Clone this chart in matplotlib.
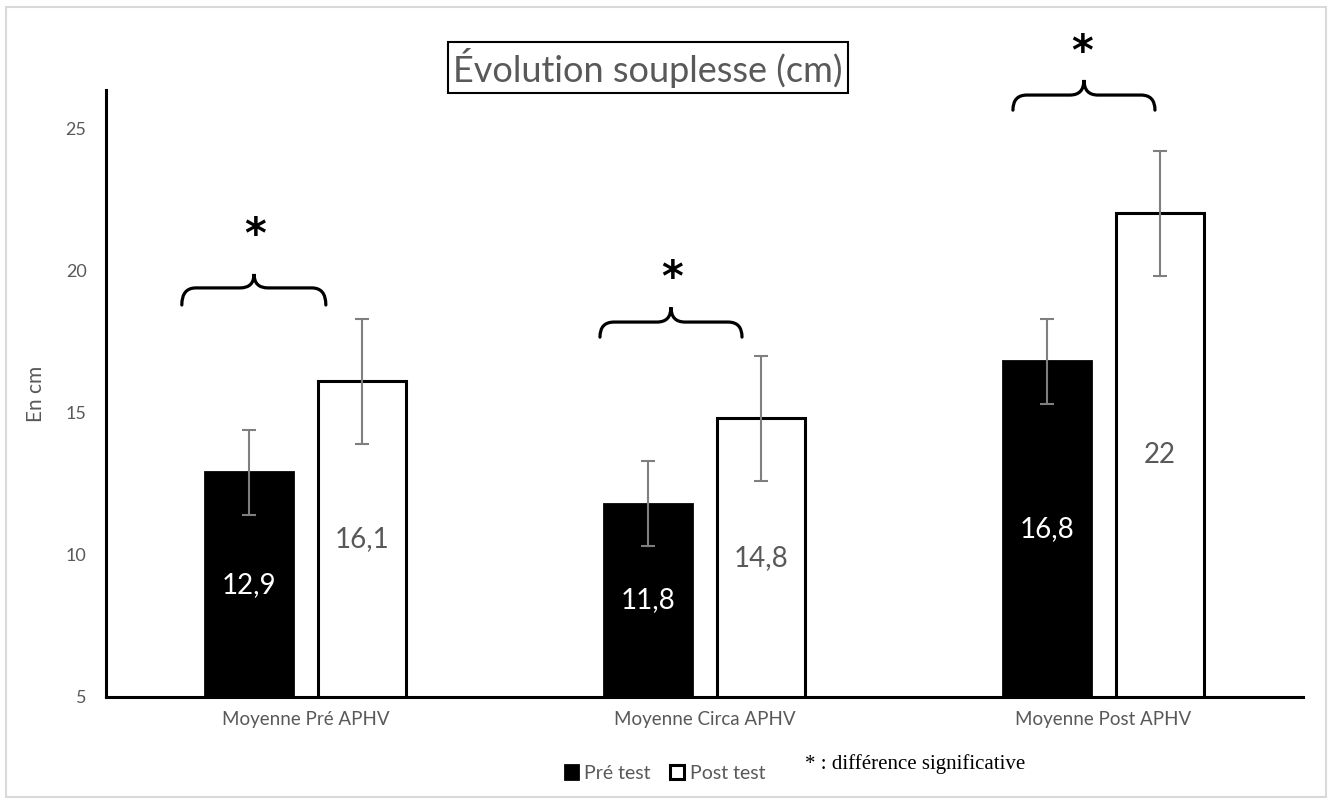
"""
Évolution souplesse (cm) - barres groupées avec écarts-types
"""
import numpy as np
import matplotlib.pyplot as plt
from matplotlib.path import Path
from matplotlib.patches import PathPatch, Rectangle

plt.rcParams['font.family'] = ['Lato', 'DejaVu Sans']

# data
categories = ['Moyenne Pré APHV', 'Moyenne Circa APHV', 'Moyenne Post APHV']
pre_test = [12.9, 11.8, 16.8]
post_test = [16.1, 14.8, 22.0]
pre_err = [1.5, 1.5, 1.5]
post_err = [2.2, 2.2, 2.2]
pre_labels = ['12,9', '11,8', '16,8']
post_labels = ['16,1', '14,8', '22']

grey = '#595959'
ymin = 5

fig = plt.figure(figsize=(13.3, 7.98), dpi=100)
ax = fig.add_axes([0.0797, 0.1266, 0.9, 0.7607])

pos = np.arange(len(categories))
width = 0.222
off = 0.142
ekw = dict(ecolor='#7f7f7f', elinewidth=1.5, capsize=5, capthick=1.5)

bar1 = ax.bar(pos - off, pre_test, width, color='black', edgecolor='black', linewidth=2,
              yerr=pre_err, error_kw=ekw)
bar2 = ax.bar(pos + off, post_test, width, color='white', edgecolor='black', linewidth=2.2,
              yerr=post_err, error_kw=ekw)

# étiquettes au milieu des barres
for i in range(len(categories)):
    ax.text(pos[i] - off, (ymin + pre_test[i]) / 2, pre_labels[i], ha='center', va='center',
            color='white', fontsize=20)
    ax.text(pos[i] + off, (ymin + post_test[i]) / 2, post_labels[i], ha='center', va='center',
            color=grey, fontsize=20)

ax.set_xlim(-0.5, 2.5)
ax.set_ylim(ymin, 26.34)
ax.set_yticks([5, 10, 15, 20, 25])
ax.set_xticks(pos)
ax.set_xticklabels(categories)
ax.tick_params(length=0, colors=grey, labelsize=13.5)
ax.tick_params(axis='y', labelsize=13, pad=14)
ax.tick_params(axis='x', pad=10)
for s in ['top', 'right']:
    ax.spines[s].set_visible(False)
for s in ['left', 'bottom']:
    ax.spines[s].set_linewidth(2.2)
    ax.spines[s].set_color('black')
ax.set_ylabel('En cm', color=grey, fontsize=15, labelpad=14)


# accolades de significativité
def brace(x0, x1, xm, y_base, y_line, y_tip, r=0.035):
    verts = [(x0, y_base), (x0, y_line), (x0 + r, y_line),
             (xm - r, y_line), (xm, y_line), (xm, y_tip),
             (xm, y_line), (xm + r, y_line),
             (x1 - r, y_line), (x1, y_line), (x1, y_base)]
    codes = [Path.MOVETO, Path.CURVE3, Path.CURVE3,
             Path.LINETO, Path.CURVE3, Path.CURVE3,
             Path.CURVE3, Path.CURVE3,
             Path.LINETO, Path.CURVE3, Path.CURVE3]
    ax.add_patch(PathPatch(Path(verts, codes), facecolor='none', edgecolor='black', lw=2.3,
                           clip_on=False, capstyle='round'))


star_kw = dict(ha='center', va='center', fontsize=30, fontweight='bold', fontfamily='DejaVu Sans',
               clip_on=False)
brace(-0.31, 0.051, -0.129, 18.78, 19.38, 19.87)
ax.text(-0.127, 21.2, '*', **star_kw)
brace(0.738, 1.094, 0.916, 17.65, 18.18, 18.7)
ax.text(0.918, 19.7, '*', **star_kw)
brace(1.773, 2.129, 1.951, 25.63, 26.16, 26.69)
ax.text(1.946, 27.65, '*', **star_kw)

# titre
fig.text(0.487, 0.915, 'Évolution souplesse (cm)', ha='center', va='center', color=grey, fontsize=26,
         bbox=dict(boxstyle='square,pad=0.15', facecolor='white', edgecolor='black', linewidth=1.5))

# légende
leg = fig.legend((bar1, bar2), ('Pré test', 'Post test'), loc='center', bbox_to_anchor=(0.5, 0.031),
                 ncol=2, frameon=False, fontsize=14, handlelength=0.7, handleheight=0.7,
                 handletextpad=0.3, columnspacing=1.0, labelcolor=grey)
fig.text(0.605, 0.043, '* : différence significative', fontsize=15, fontfamily='Liberation Serif',
         color='black', ha='left', va='center')

# cadre extérieur
fig.patches.append(Rectangle((6 / 1330, 1 / 798), 1320 / 1330, 790 / 798, transform=fig.transFigure,
                             facecolor='none', edgecolor='#d9d9d9', linewidth=1.5))

plt.savefig('out.png', dpi=100)
